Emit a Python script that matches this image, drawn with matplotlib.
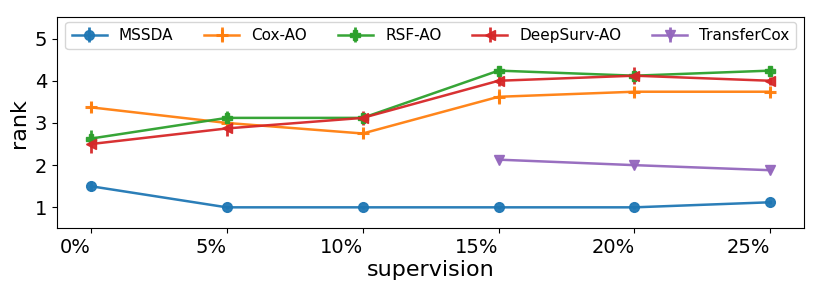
import matplotlib
matplotlib.use("Agg")
import matplotlib.pyplot as plt
import numpy as np

tick_labels = ["0%", "5%", "10%", "15%", "20%", "25%"]
x = np.arange(len(tick_labels))

mssda = [1.5, 1.0, 1.0, 1.0, 1.0, 1.12]
mssda_err = [0.12, 0.03, 0.03, 0.03, 0.03, 0.05]
cox = [3.37, 3.0, 2.75, 3.62, 3.74, 3.74]
cox_err = [0.12, 0.08, 0.1, 0.18, 0.1, 0.1]
rsf = [2.63, 3.12, 3.12, 4.24, 4.12, 4.24]
rsf_err = [0.2, 0.17, 0.12, 0.12, 0.1, 0.12]
deep = [2.5, 2.87, 3.12, 4.0, 4.12, 4.0]
deep_err = [0.22, 0.17, 0.17, 0.12, 0.2, 0.1]
tcox_x = [3, 4, 5]
tcox = [2.13, 2.0, 1.88]
tcox_err = [0.04, 0.04, 0.04]

fig, ax = plt.subplots(figsize=(8.14, 2.91), dpi=100)
kw = dict(linewidth=1.8, elinewidth=2.0, capsize=0, alpha=0.95)
ax.errorbar(x, mssda, yerr=mssda_err, marker='o', markersize=7, color='#1f77b4', label='MSSDA', **kw)
ax.errorbar(x, cox, yerr=cox_err, marker='+', markersize=8, mew=2.2, color='#ff7f0e', label='Cox-AO', **kw)
ax.errorbar(x, rsf, yerr=rsf_err, marker='P', markersize=7.5, color='#2ca02c', label='RSF-AO', **kw)
ax.errorbar(x, deep, yerr=deep_err, marker='<', markersize=7.5, color='#d62728', label='DeepSurv-AO', **kw)
ax.errorbar(tcox_x, tcox, yerr=tcox_err, marker='v', markersize=7, color='#9467bd', label='TransferCox', **kw)

ax.set_xlim(-0.25, 5.25)
ax.set_ylim(0.5, 5.5)
ax.set_xticks(x)
ax.set_xticklabels(tick_labels, ha='right', fontsize=14)
ax.set_yticks([1, 2, 3, 4, 5])
ax.tick_params(axis='y', labelsize=14)
ax.set_xlabel('supervision', fontsize=16, labelpad=2)
ax.set_ylabel('rank', fontsize=16)
ax.legend(loc='upper center', ncol=5, fontsize=11, bbox_to_anchor=(0.5, 1.0),
          handlelength=2.3, columnspacing=2.0, borderaxespad=0.3)
fig.subplots_adjust(left=0.07, right=0.988, top=0.94, bottom=0.215)
fig.savefig("out.png", dpi=100)
